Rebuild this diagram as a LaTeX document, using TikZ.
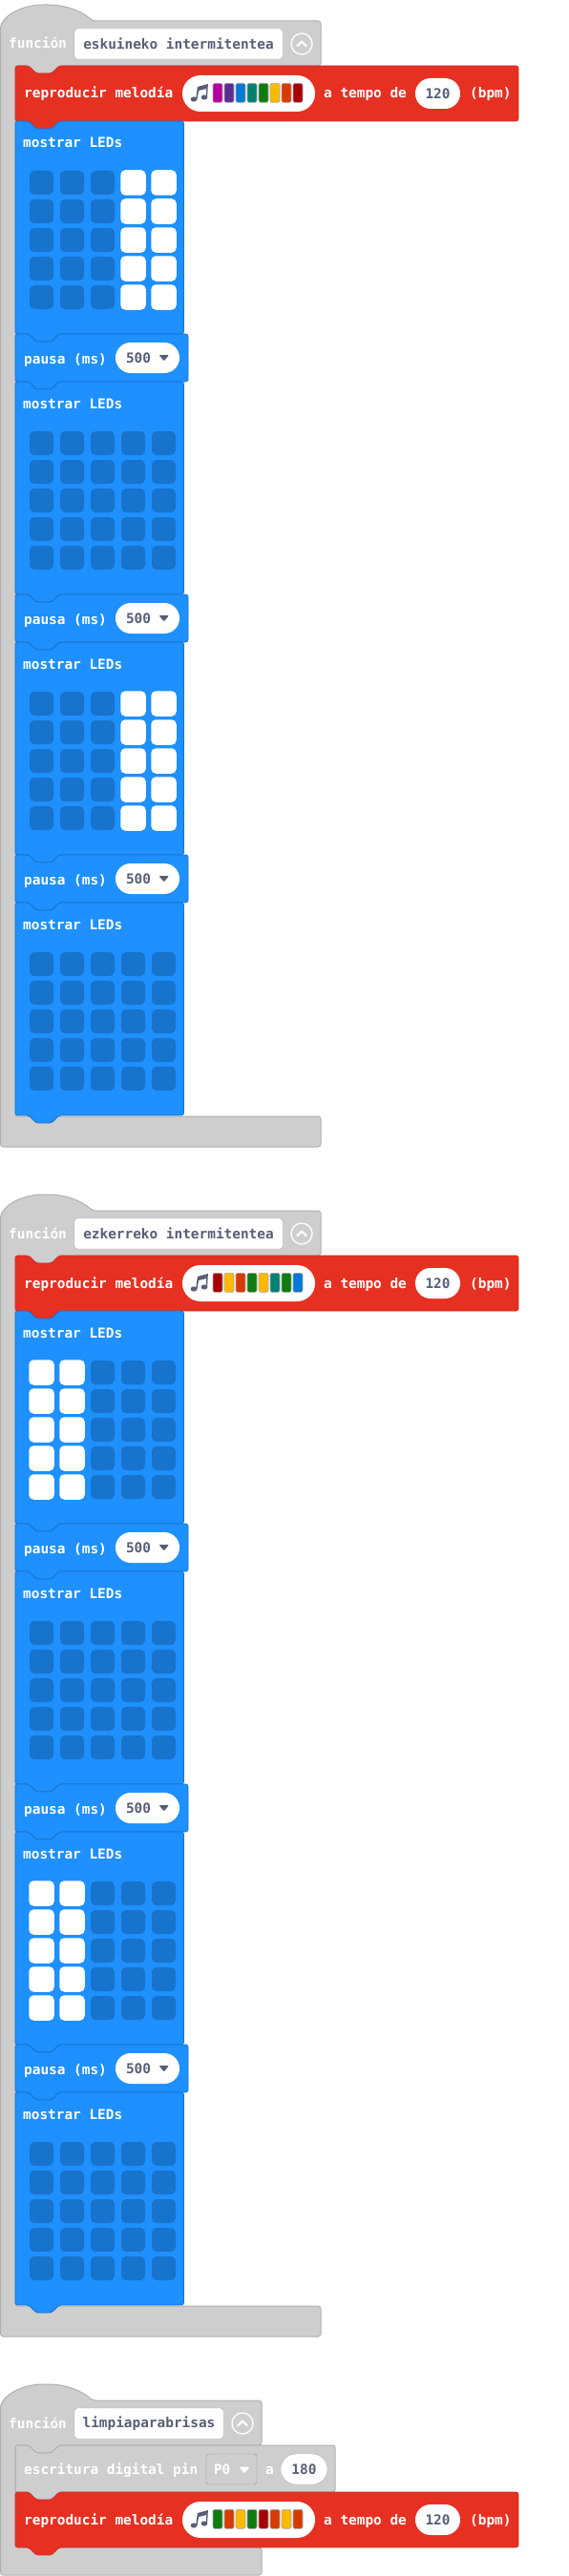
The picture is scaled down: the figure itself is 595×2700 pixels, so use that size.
\documentclass[tikz,border=0pt]{standalone}
\usepackage{fontspec}
\newfontfamily\blockfont{DejaVu Sans Mono}
\definecolor{hatgrey}{HTML}{CECECE}
\definecolor{hatline}{HTML}{B0B0B0}
\definecolor{melodyred}{HTML}{E63022}
\definecolor{melodyline}{HTML}{C8352B}
\definecolor{basicblue}{HTML}{1E90FF}
\definecolor{basicline}{HTML}{1873CC}
\definecolor{fieldtext}{HTML}{575E75}
\definecolor{cm}{HTML}{B4009E}
\definecolor{cp}{HTML}{5C2D91}
\definecolor{cb}{HTML}{0078D7}
\definecolor{ct}{HTML}{008272}
\definecolor{cg}{HTML}{107C10}
\definecolor{cy}{HTML}{FFB900}
\definecolor{co}{HTML}{D83B01}
\definecolor{cr}{HTML}{A80000}
\tikzset{
  label/.style={anchor=base west, inner sep=0, text=white, font=\blockfont\bfseries\fontsize{14.4}{16}\selectfont},
  field/.style={inner sep=0, text=fieldtext, font=\blockfont\bfseries\fontsize{14.4}{16}\selectfont},
  pill/.style={field, fill=white, minimum height=32pt, rounded corners=15.9pt},
  led0/.style={inner sep=0, minimum size=25pt, rounded corners=5pt, fill=basicline},
  led1/.style={inner sep=0, minimum size=26.5pt, rounded corners=5pt, fill=white},
  notebar/.style={anchor=north west, inner sep=0, minimum width=10pt, minimum height=20pt, rounded corners=2pt, draw=black!35, line width=.6pt},
  melodyblock/.style={fill=melodyred, draw=melodyline, line width=.8pt},
  ledblock/.style={fill=basicblue, draw=basicline, line width=.8pt},
  greyblock/.style={fill=hatgrey, draw=hatline, line width=1pt}
}
% stacked block with notch on top and tab below: style, right, top, bottom
\newcommand{\stackblock}[4]{
  \draw[#1, rounded corners=2.5pt] (16,#3) -- (30,#3) -- (38,#3+8) -- (54,#3+8) -- (62,#3) -- (#2,#3)
    -- (#2,#4) -- (62,#4) -- (54,#4+8) -- (38,#4+8) -- (30,#4) -- (16,#4) -- cycle;
}
\newcommand{\funcion}[6]{
  \draw[greyblock, rounded corners=3pt] (0.5,#2+5) .. controls (8,#2-9) and (27,#2-17) .. (48,#2-17)
    .. controls (67,#2-17) and (85,#2-11) .. (97,#2) -- (#3,#2) -- (#3,#2+47) -- (62,#2+47)
    -- (54,#2+55) -- (38,#2+55) -- (30,#2+47) -- (16,#2+47)
    -- (16,#4) -- (#3,#4) -- (#3,#5) -- (0.5,#5) -- cycle;
  \node[label] (#1-title) at (9,#2+29) {función};
  \node[field, fill=white, draw=hatline, rounded corners=3pt, minimum height=32pt, minimum width=#3pt-118pt] (#1-name) at ({(#3+38)/2},#2+24) {#6};
  \node[circle, draw=white!90!hatgrey, line width=1.5pt, inner sep=0, minimum size=22pt] (#1-fold) at (#3-20,#2+24) {};
  \draw[white!90!hatgrey, line width=2.4pt, rounded corners=.5pt] ([shift={(-5,2.5)}]#1-fold.center) -- ([shift={(0,-2.5)}]#1-fold.center) -- ([shift={(5,2.5)}]#1-fold.center);
}
\newcommand{\melodia}[3]{
  \stackblock{melodyblock}{543}{#2}{#2+58}
  \node[label] (#1-play) at (25,#2+34) {reproducir melodía};
  \node[pill, minimum width=139pt, minimum height=38pt, rounded corners=18.9pt] (#1-tune) at (260.5,#2+29) {};
  % music note
  \fill[fieldtext] (203,#2+35) ellipse (3.4 and 2.6) (214,#2+33) ellipse (3.4 and 2.6);
  \fill[fieldtext] (205.1,#2+35) -- (206.9,#2+22) -- (217.9,#2+19) -- (217.1,#2+33) -- (215.9,#2+33) -- (216.3,#2+24) -- (208.1,#2+26) -- (206.5,#2+35) -- cycle;
  \foreach \col [count=\i] in {#3} {
    \node[notebar, fill=\col] (#1-bar\i) at ({222.7+12*(\i-1)},#2+18) {};
  }
  \node[label] (#1-tempo) at (339,#2+34) {a tempo de};
  \node[pill, minimum width=47pt] (#1-bpm) at (458.5,#2+29) {120};
  \node[label] (#1-unit) at (492,#2+34) {(bpm)};
}
% lit columns run from #4 up to #5
\newcommand{\mostrar}[5]{
  \stackblock{ledblock}{192.5}{#2}{#2+223}
  \node[label] (#1-title) at (24,#2+28) {mostrar LEDs};
  \foreach \r in {0,...,4} {
    \foreach \c in {0,...,4} {
      \pgfmathtruncatemacro\islit{and(\c>=#4,\c<#5)}
      \node[led\islit] (#1-\r-\c) at ({43.5+32*\c},{#2+64.5+30*\r}) {};
    }
  }
}
\newcommand{\pausa}[2]{
  \stackblock{ledblock}{197}{#2}{#2+50}
  \node[label] (#1-title) at (25,#2+31) {pausa (ms)};
  \node[pill, minimum width=67pt, text width=45pt] (#1-time) at (154.5,#2+25) {500};
  \fill[fieldtext, rounded corners=1pt] (166.5,#2+22) -- (177,#2+22) -- (171.7,#2+28.5) -- cycle;
}
\begin{document}
\begin{tikzpicture}[x=1pt, y=-1pt]
  \useasboundingbox (0,0) rectangle (595,2700);

  % eskuineko
  \funcion{right}{22}{336}{1170}{1202}{eskuineko intermitentea}
  \melodia{rightmel}{69}{cm,cp,cb,ct,cg,cy,co,cr}
  \mostrar{righta}{127}{}{3}{5}
  \pausa{rightp}{350}
  \mostrar{rightb}{400}{}{5}{5}
  \pausa{rightq}{623}
  \mostrar{rightc}{673}{}{3}{5}
  \pausa{rightr}{896}
  \mostrar{rightd}{946}{}{5}{5}

  % ezkerreko
  \funcion{left}{1269}{336}{2417}{2449}{ezkerreko intermitentea}
  \melodia{leftmel}{1316}{cr,cy,co,cg,cy,ct,cg,cb}
  \mostrar{lefta}{1374}{}{0}{2}
  \pausa{leftp}{1597}
  \mostrar{leftb}{1647}{}{5}{5}
  \pausa{leftq}{1870}
  \mostrar{leftc}{1920}{}{0}{2}
  \pausa{leftr}{2143}
  \mostrar{leftd}{2193}{}{5}{5}

  % limpiaparabrisas
  \funcion{wiper}{2516}{274}{2670}{2699}{limpiaparabrisas}
  \stackblock{greyblock}{351}{2563}{2612}
  \node[label] (wiper-write) at (25,2593) {escritura digital pin};
  \node[field, text=white, draw=hatline!85!black, rounded corners=3pt, minimum width=53pt, minimum height=32pt, text width=37pt] (wiper-pin) at (242.5,2588) {P0};
  \fill[white, rounded corners=1pt] (250.5,2585.5) -- (261.5,2585.5) -- (256,2592.5) -- cycle;
  \node[label] (wiper-to) at (278,2593) {a};
  \node[pill, draw=hatline, minimum width=49pt] (wiper-angle) at (318.5,2588) {180};
  \melodia{wipermel}{2612}{cg,co,cy,cg,cr,co,cy,co}
\end{tikzpicture}
\end{document}
